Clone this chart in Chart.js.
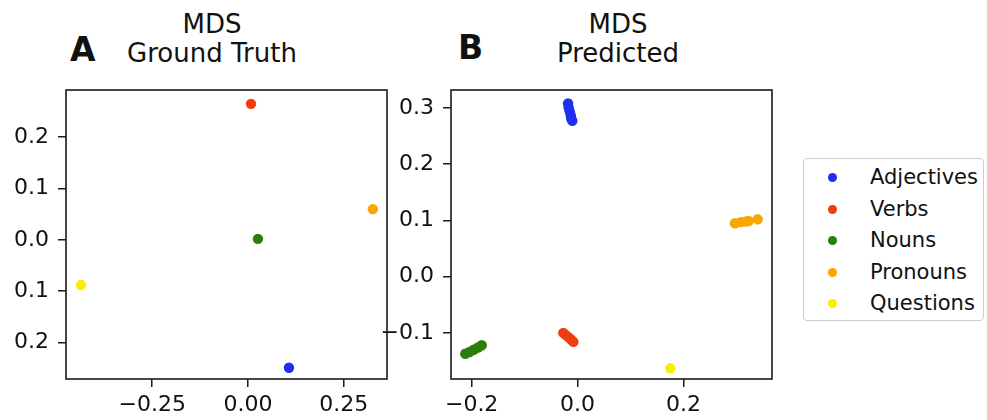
<!DOCTYPE html>
<html>
<head>
<meta charset="utf-8">
<script src="https://cdn.jsdelivr.net/npm/chart.js@4.4.1/dist/chart.umd.min.js"></script>
<style>
  body { margin: 0; background: #fff; width: 987px; height: 420px; overflow: hidden; position: relative; font-family: "DejaVu Sans", sans-serif; color: #111; }
  .panel { position: absolute; top: 0; width: 400px; height: 420px; }
  .title { position: absolute; text-align: center; font-size: 26px; line-height: 29px; white-space: nowrap; }
  .letter { position: absolute; font-size: 33px; font-weight: 900; line-height: 1; }
  #legend { position: absolute; left: 803px; top: 158px; width: 181px; height: 163px; border: 1px solid #ccc; border-radius: 4px; box-sizing: border-box; }
  .row { position: absolute; left: 0; height: 30px; font-size: 21px; line-height: 30px; }
  .dot { position: absolute; left: 24px; top: 11px; width: 9px; height: 9px; border-radius: 50%; }
  .row span { position: absolute; left: 66px; white-space: nowrap; }
</style>
</head>
<body>
<div class="letter" style="left:70px;top:33px;">A</div>
<div class="title" style="left:112px;top:10px;width:200px;">MDS<br>Ground Truth</div>
<div class="letter" style="left:458px;top:31px;">B</div>
<div class="title" style="left:518px;top:10px;width:200px;">MDS<br>Predicted</div>

<div class="panel" style="left:0px;"><canvas id="chartA"></canvas></div>
<div class="panel" style="left:380px;"><canvas id="chartB"></canvas></div>
<div id="legend"></div>

<script>
var categories = ["Adjectives", "Verbs", "Nouns", "Pronouns", "Questions"];
var colors = ["#1f2ff2", "#f03c10", "#2a7f0a", "#f7a800", "#f8f000"];

// ground truth: one point per category
var truthX = [0.107, 0.008, 0.026, 0.326, -0.436];
var truthY = [-0.249, 0.265, 0.002, 0.060, -0.088];

// predicted: small clusters per category
var predAdjX = [-0.018, -0.017, -0.015, -0.013, -0.012, -0.010];
var predAdjY = [0.308, 0.301, 0.294, 0.287, 0.281, 0.277];
var predVerbX = [-0.027, -0.022, -0.017, -0.012, -0.008];
var predVerbY = [-0.100, -0.104, -0.108, -0.112, -0.116];
var predNounX = [-0.212, -0.204, -0.196, -0.188, -0.181];
var predNounY = [-0.137, -0.134, -0.130, -0.126, -0.122];
var predProX = [0.297, 0.308, 0.318, 0.323, 0.340];
var predProY = [0.095, 0.097, 0.098, 0.099, 0.102];
var predQX = [0.175];
var predQY = [-0.163];

var xTicksA = [-0.25, 0, 0.25];
var xLabelsA = ["\u22120.25", "0.00", "0.25"];
var yTicksA = [-0.2, -0.1, 0, 0.1, 0.2];
var yLabelsA = ["0.2", "0.1", "0.0", "0.1", "0.2"]; // minus signs cut off in the figure
var xTicksB = [-0.2, 0, 0.2];
var xLabelsB = ["\u22120.2", "0.0", "0.2"];
var yTicksB = [-0.1, 0, 0.1, 0.2, 0.3];
var yLabelsB = ["\u22120.1", "0.0", "0.1", "0.2", "0.3"];

var zip = function(xs, ys) {
	var out = [];
	for (var i = 0; i < xs.length; i++) out.push({x: xs[i], y: ys[i]});
	return out;
};

var boxPlugin = {
	id: "box",
	afterDraw: function(chart) {
		var a = chart.chartArea, ctx = chart.ctx;
		ctx.save();
		ctx.strokeStyle = "#1a1a1a";
		ctx.lineWidth = 1.6;
		ctx.strokeRect(a.left, a.top, a.right - a.left, a.bottom - a.top);
		ctx.restore();
	}
};

var makeChart = function(id, datasets, cfg) {
	var axis = function(ticks, labels, fit, pad) {
		return {
			type: "linear",
			afterFit: fit,
			afterBuildTicks: function(s) { s.ticks = ticks.map(function(v) { return {value: v}; }); },
			ticks: {
				font: {family: "DejaVu Sans", size: 22},
				color: "#111",
				padding: pad,
				callback: function(v, i) { return labels[i]; }
			},
			grid: {display: true, drawOnChartArea: false, drawTicks: true, tickLength: 8, color: "#1a1a1a", lineWidth: 1.5},
			border: {display: false}
		};
	};
	var x = axis(cfg.xTicks, cfg.xLabels, function(s) { s.height = 41; }, 5);
	x.min = cfg.xMin; x.max = cfg.xMax;
	var y = axis(cfg.yTicks, cfg.yLabels, function(s) { s.width = cfg.yWidth; }, 9);
	y.min = cfg.yMin; y.max = cfg.yMax;
	return new Chart(document.getElementById(id), {
		type: "scatter",
		data: {datasets: datasets},
		options: {
			responsive: true,
			maintainAspectRatio: false,
			animation: false,
			layout: {padding: {top: 90, right: cfg.padRight, left: 0, bottom: 0}},
			plugins: {legend: {display: false}, tooltip: {enabled: false}},
			scales: {x: x, y: y}
		},
		plugins: [boxPlugin]
	});
};

var pointStyle = function(i) {
	return {label: categories[i], backgroundColor: colors[i], borderColor: colors[i], borderWidth: 0, pointRadius: 5.2};
};

var dsA = categories.map(function(c, i) {
	var d = pointStyle(i);
	d.data = [{x: truthX[i], y: truthY[i]}];
	return d;
});

var predX = [predAdjX, predVerbX, predNounX, predProX, predQX];
var predY = [predAdjY, predVerbY, predNounY, predProY, predQY];
var dsB = categories.map(function(c, i) {
	var d = pointStyle(i);
	d.data = zip(predX[i], predY[i]);
	return d;
});

makeChart("chartA", dsA, {
	xTicks: xTicksA, xLabels: xLabelsA, yTicks: yTicksA, yLabels: yLabelsA,
	xMin: -0.475, xMax: 0.363, yMin: -0.271, yMax: 0.292, yWidth: 66, padRight: 13
});
makeChart("chartB", dsB, {
	xTicks: xTicksB, xLabels: xLabelsB, yTicks: yTicksB, yLabels: yLabelsB,
	xMin: -0.239, xMax: 0.367, yMin: -0.182, yMax: 0.332, yWidth: 71, padRight: 8
});

// legend
var legend = document.getElementById("legend");
categories.forEach(function(c, i) {
	var row = document.createElement("div");
	row.className = "row";
	row.style.top = (3 + i * 31.5) + "px";
	row.style.width = "100%";
	var dot = document.createElement("div");
	dot.className = "dot";
	dot.style.background = colors[i];
	var txt = document.createElement("span");
	txt.textContent = c;
	row.appendChild(dot);
	row.appendChild(txt);
	legend.appendChild(row);
});
</script>
</body>
</html>
